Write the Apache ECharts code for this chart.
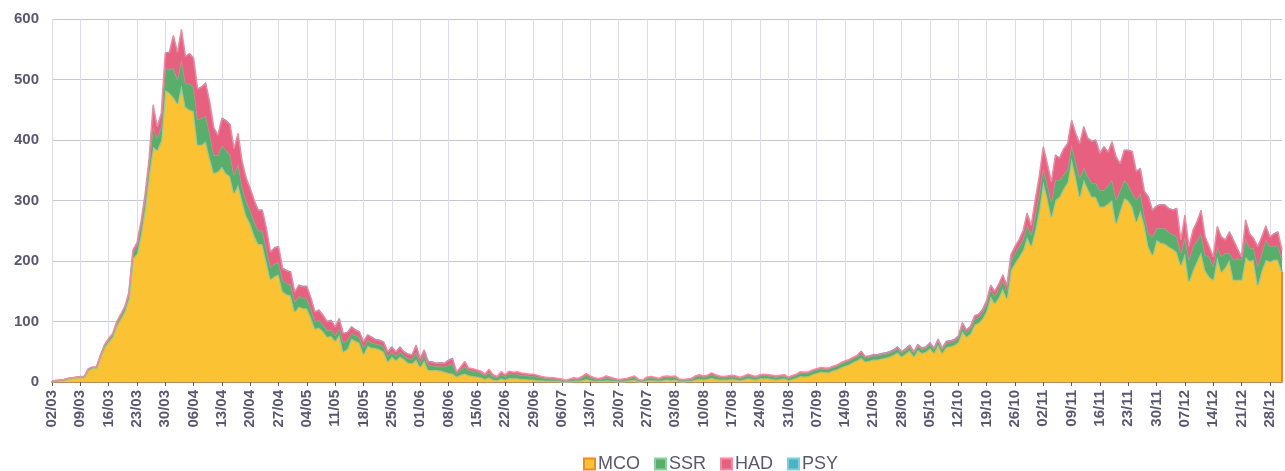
<!DOCTYPE html>
<html>
<head>
<meta charset="utf-8">
<script src="https://cdn.jsdelivr.net/npm/echarts@6/dist/echarts.min.js"></script>
<style>
html,body{margin:0;padding:0;background:#fff;}
#chart{width:1285px;height:471px;}
</style>
</head>
<body>
<div id="chart"></div>
<script>
// Daily categories: 02/03 .. 31/12 (2020)
const startDate = [2020, 2, 2]; // year, month index, day
const dayCount = 305;
const categories = [];
(function(){
  const d = new Date(Date.UTC(startDate[0], startDate[1], startDate[2]));
  for (let i = 0; i < dayCount; i++) {
    const dd = String(d.getUTCDate()).padStart(2,'0');
    const mm = String(d.getUTCMonth()+1).padStart(2,'0');
    categories.push(dd + '/' + mm);
    d.setUTCDate(d.getUTCDate()+1);
  }
})();

const seriesNames = ['MCO', 'SSR', 'HAD', 'PSY'];

const mco = [
  1,2,3,3,5,6,7,8,8,20,
  23,23,42,58,67,75,94,105,117,139,
  205,212,245,288,345,389,383,400,483,478,
  471,460,491,455,450,448,392,392,398,370,
  345,348,356,345,340,312,327,300,275,262,
  242,228,228,199,170,175,178,150,145,143,
  116,125,122,122,107,88,90,84,75,76,
  68,78,50,55,72,68,65,46,60,57,
  56,54,50,34,42,36,42,38,32,31,
  37,25,36,20,20,20,19,17,15,14,
  9,12,14,11,10,9,8,5,8,4,
  3,6,4,7,6,6,5,5,4,4,
  3,3,2,2,2,2,1,1,1,2,
  2,3,5,3,2,2,2,3,2,2,
  1,1,2,3,4,1,1,3,3,3,
  2,3,4,3,4,2,1,2,2,4,
  5,4,5,7,5,4,4,4,5,4,
  3,4,6,5,4,6,6,6,5,4,
  5,6,3,5,7,10,9,10,13,15,
  17,16,16,19,21,24,27,29,33,36,
  40,34,35,37,37,39,40,42,45,49,
  42,47,52,42,53,48,50,56,48,62,
  48,58,59,61,66,84,75,80,95,98,
  105,118,142,130,140,155,138,185,197,207,
  218,240,225,251,285,331,305,273,301,306,
  320,330,370,340,306,335,320,306,306,290,
  290,295,301,262,284,304,300,290,265,284,
  260,224,210,235,230,229,224,220,215,193,
  213,166,185,200,215,185,174,169,207,182,
  190,202,169,169,169,207,200,202,160,185,
  202,199,202,202,182
];

const ssr = [
  0,0,0,1,1,1,1,1,1,1,
  1,1,2,3,3,3,4,5,5,6,
  9,12,13,14,15,33,20,22,36,38,
  48,40,42,38,43,40,42,44,42,40,
  30,27,35,38,36,30,34,22,24,22,
  22,22,22,22,20,20,20,18,18,18,
  17,17,17,16,14,12,12,11,10,10,
  9,11,15,14,9,9,9,11,9,8,
  7,8,8,9,8,7,8,6,7,7,
  12,7,9,8,7,6,7,8,13,16,
  5,8,12,8,8,8,7,5,8,5,
  4,7,5,7,6,7,6,6,6,6,
  5,4,4,3,3,2,2,1,2,3,
  2,4,6,4,3,2,3,4,4,2,
  2,2,2,3,4,2,1,3,4,3,
  2,4,4,4,4,2,2,2,2,4,
  5,4,4,5,5,4,3,4,4,4,
  3,4,5,4,3,4,5,4,4,4,
  4,4,3,4,4,5,5,5,5,5,
  5,5,5,5,5,6,6,6,6,6,
  6,6,6,6,6,6,6,6,6,6,
  6,6,6,6,6,6,6,6,6,6,
  6,6,6,6,7,8,7,8,9,9,
  10,11,11,12,14,13,13,15,16,17,
  18,20,18,25,27,22,22,25,33,28,
  22,22,22,25,31,20,20,23,23,27,
  27,30,33,39,33,30,26,22,36,28,
  14,22,30,19,24,25,24,24,25,20,
  27,36,39,33,31,25,33,22,17,26,
  23,11,33,35,33,30,22,19,31,28,
  33,25,22,24,20
];

const had = [
  0,0,0,0,0,0,0,0,0,1,
  1,1,1,1,2,2,2,2,3,3,
  4,6,7,8,10,36,19,22,25,29,
  54,45,50,45,50,47,50,52,54,52,
  45,33,45,49,50,44,50,42,38,36,
  36,34,34,33,25,27,26,20,21,21,
  16,18,19,20,18,16,17,15,15,16,
  14,16,15,13,10,9,9,10,9,9,
  7,7,8,7,8,7,8,6,7,7,
  12,7,8,6,6,5,6,6,8,9,
  3,5,8,4,4,3,3,3,5,3,
  2,4,3,4,4,4,4,3,3,3,
  3,2,2,2,2,2,2,1,2,2,
  2,2,3,3,2,2,2,3,2,2,
  1,2,2,2,2,1,1,2,2,2,
  2,2,2,2,2,1,1,1,2,2,
  2,2,2,3,2,2,2,2,2,2,
  2,2,2,2,2,2,2,2,2,2,
  2,2,2,2,2,2,2,2,2,2,
  2,2,2,2,2,2,2,2,2,2,
  5,2,2,2,2,2,2,2,2,3,
  2,2,3,2,3,2,2,3,2,3,
  2,3,3,3,3,6,4,4,5,5,
  5,6,7,8,8,9,9,10,11,11,
  14,19,16,25,28,36,34,33,41,36,
  43,42,41,46,57,67,63,69,71,61,
  72,55,63,71,44,49,57,69,47,41,
  41,60,44,37,39,39,39,40,47,22,
  36,22,27,32,38,30,17,16,33,32,
  22,35,33,16,5,31,23,16,33,27,
  23,16,21,22,16
];

const psy = [
  0,0,0,0,0,0,0,0,0,0,
  0,0,0,0,0,0,0,0,0,0,
  1,1,1,1,1,1,1,1,1,1,
  1,1,1,1,1,1,1,1,1,1,
  1,1,1,1,1,1,1,1,1,1,
  1,1,1,1,1,1,1,1,1,1,
  1,1,1,1,1,1,1,1,1,1,
  1,1,1,1,1,1,1,1,1,1,
  1,1,1,1,1,1,1,1,1,1,
  1,1,1,1,1,1,1,1,1,1,
  0,0,0,0,0,0,0,0,0,0,
  0,0,0,0,0,0,0,0,0,0,
  0,0,0,0,0,0,0,0,0,0,
  0,0,0,0,0,0,0,0,0,0,
  0,0,0,0,0,0,0,0,0,0,
  0,0,0,0,0,0,0,0,0,0,
  0,0,0,0,0,0,0,0,0,0,
  0,0,0,0,0,0,0,0,0,0,
  0,0,0,0,0,0,0,0,0,0,
  0,0,0,0,0,0,0,0,0,0,
  1,1,1,1,1,1,1,1,1,1,
  1,1,1,1,1,1,1,1,1,1,
  1,1,1,1,1,1,1,1,1,1,
  1,1,1,1,1,1,1,1,1,1,
  1,1,1,1,1,1,1,1,1,1,
  1,1,1,1,1,1,1,1,1,1,
  1,1,1,1,1,1,1,1,1,1,
  1,1,1,1,1,1,1,1,1,1,
  1,1,1,1,1,1,1,1,1,1,
  1,1,1,1,1,1,1,1,1,1,
  1,1,1,1,1
];

const yTicks = [0, 100, 200, 300, 400, 500, 600];

const textColor = '#5a5770';
const fillColors = ['#fbc233', '#5aae6c', '#e8607f', '#4ab4c5'];
const lineColors = ['#95cc9d', '#c9909a', '#ee8ea4', '#4ab4c5'];
const lineWidths = [2.5, 1.2, 1.5, 0];
const legendBorders = ['#ee8a2e', '#8fcf9c', '#f08aa2', '#7ecfda'];
const values = [mco, ssr, had, psy];

const lastCat = categories[categories.length - 1];
const lastMco = mco[mco.length - 1];

const chart = echarts.init(document.getElementById('chart'), null, {renderer: 'canvas'});

const option = {
  animation: false,
  backgroundColor: '#ffffff',
  textStyle: {fontFamily: 'Liberation Sans, Arial, sans-serif'},
  grid: {left: 52, right: 3, top: 19, bottom: 89, containLabel: false},
  legend: {
    left: 578,
    top: 450,
    icon: 'rect',
    itemWidth: 11,
    itemHeight: 11,
    itemGap: 14,
    textStyle: {color: textColor, fontSize: 18, padding: [0, 0, 0, -2]},
    data: seriesNames.map((n, i) => ({
      name: n,
      itemStyle: {color: fillColors[i], borderColor: legendBorders[i], borderWidth: 2}
    }))
  },
  xAxis: {
    type: 'category',
    data: categories,
    boundaryGap: false,
    axisLine: {show: true, lineStyle: {color: '#dc8530', width: 2}},
    axisTick: {show: true, interval: 6, length: 4, lineStyle: {color: '#5d5a70'}},
    axisLabel: {interval: 6, rotate: 90, color: textColor, fontSize: 15, fontWeight: 'bold', margin: 8},
    splitLine: {show: true, interval: 6, lineStyle: {color: '#dedbe8', width: 1}}
  },
  yAxis: {
    type: 'value',
    min: yTicks[0],
    max: yTicks[yTicks.length - 1],
    interval: 100,
    axisLine: {show: false},
    axisTick: {show: false},
    axisLabel: {color: textColor, fontSize: 15, fontWeight: 'bold', margin: 13},
    splitLine: {lineStyle: {color: '#c9c5da', width: 1}}
  },
  series: seriesNames.map((n, i) => {
    const s = {
      name: n,
      type: 'line',
      stack: 'total',
      data: values[i],
      showSymbol: false,
      symbol: 'none',
      smooth: false,
      z: 2 + i,
      lineStyle: {color: lineColors[i], width: lineWidths[i]},
      itemStyle: {color: fillColors[i]},
      areaStyle: {color: fillColors[i], opacity: 1}
    };
    if (i === 0) {
      s.markLine = {
        silent: true,
        symbol: 'none',
        label: {show: false},
        lineStyle: {color: '#e8892f', width: 2, type: 'solid'},
        data: [[{coord: [lastCat, 0]}, {coord: [lastCat, lastMco]}]]
      };
    }
    return s;
  })
};

chart.setOption(option);
</script>
</body>
</html>
